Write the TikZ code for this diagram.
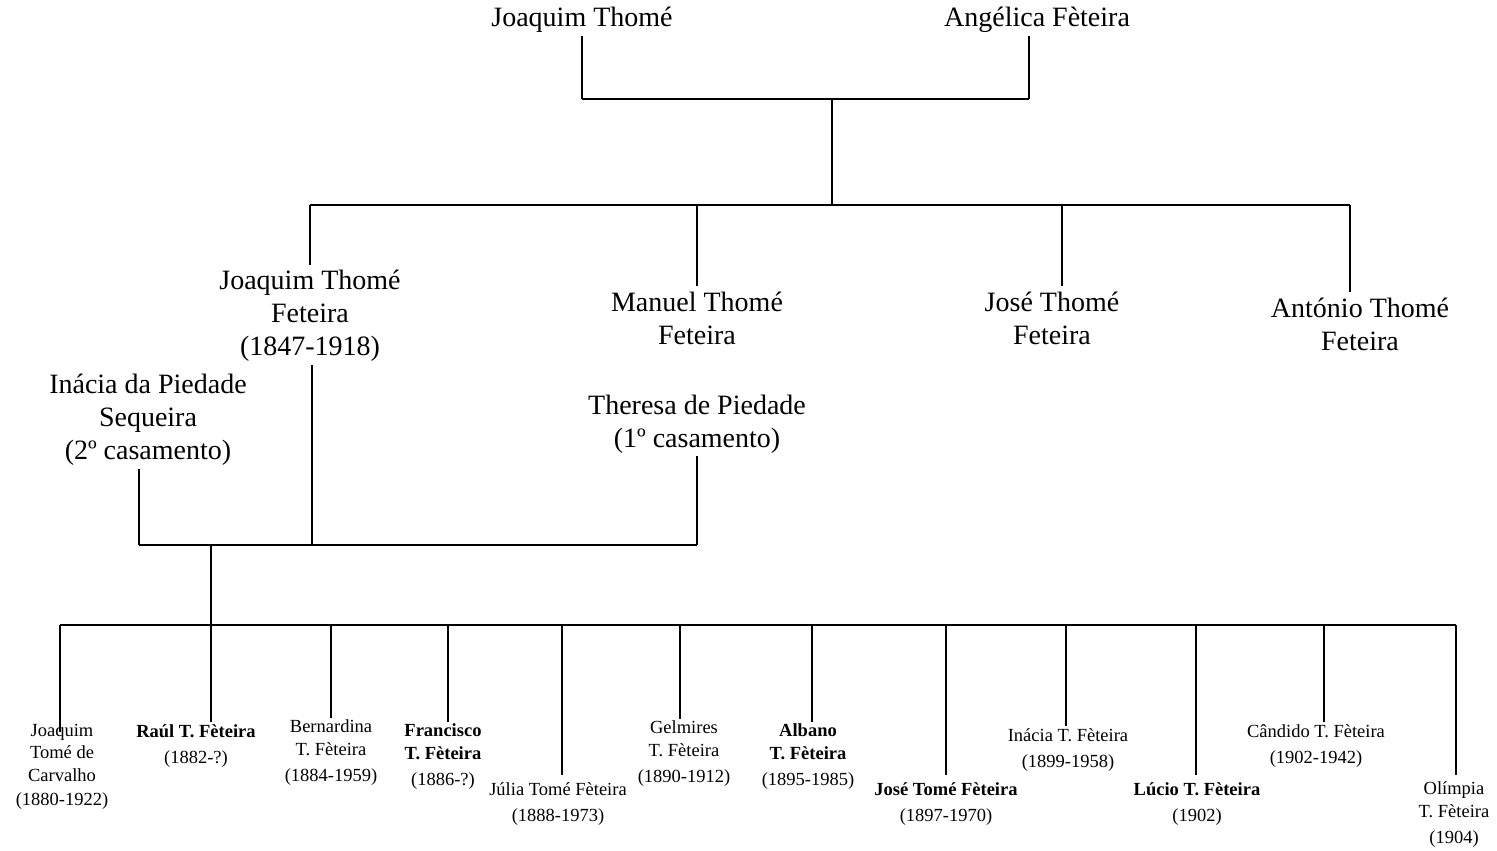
\documentclass[tikz,border=0pt]{standalone}
\usepackage{fontspec}
\setmainfont{Liberation Serif}
\begin{document}
\begin{tikzpicture}[
  x=1pt, y=-1pt,
  big/.style={align=center, inner sep=0pt, font=\fontsize{28}{33}\selectfont},
  kid/.style={align=center, inner sep=0pt, font=\fontsize{18.5}{22.5}\selectfont},
  ln/.style={line width=1.5pt, black}
]
\useasboundingbox (0,0) rectangle (1497,851);

%% Parents
\node[big] (joaquim) at (582,20) {Joaquim Thomé};
\node[big] (angelica) at (1037,20) {Angélica Fèteira};
\coordinate (pbar) at (832,99);

%% Their sons
\node[big] (jtf) at (310,316) {Joaquim Thomé\\Feteira\\(1847-1918)};
\node[big] (mtf) at (697,318) {Manuel Thomé\\Feteira};
\node[big] (josetf) at (1052,318) {José Thomé\\Feteira};
\node[big] (antonio) at (1360,324) {António Thomé\\Feteira};
\coordinate (sbar) at (832,205);

%% Wives
\node[big] (inacia) at (148,420) {Inácia da Piedade\\Sequeira\\(2º casamento)};
\node[big] (theresa) at (697,424) {Theresa de Piedade\\(1º casamento)};
\coordinate (wbar) at (211,545);

%% Children
\coordinate (kbar) at (211,625);
\node[kid] (k1) at (62,767) {Joaquim\\Tomé de\\Carvalho\\[2pt](1880-1922)};
\node[kid] (k2) at (196,746) {\textbf{Raúl T. Fèteira}\\[4pt](1882-?)};
\node[kid] (k3) at (331,753) {Bernardina\\T. Fèteira\\[4pt](1884-1959)};
\node[kid] (k4) at (443,757) {\textbf{Francisco}\\\textbf{T. Fèteira}\\[4pt](1886-?)};
\node[kid] (k5) at (558,804) {Júlia Tomé Fèteira\\[4pt](1888-1973)};
\node[kid] (k6) at (684,754) {Gelmires\\T. Fèteira\\[4pt](1890-1912)};
\node[kid] (k7) at (808,757) {\textbf{Albano}\\\textbf{T. Fèteira}\\[4pt](1895-1985)};
\node[kid] (k8) at (946,804) {\textbf{José Tomé Fèteira}\\[4pt](1897-1970)};
\node[kid] (k9) at (1068,750) {Inácia T. Fèteira\\[4pt](1899-1958)};
\node[kid] (k10) at (1197,804) {\textbf{Lúcio T. Fèteira}\\[4pt](1902)};
\node[kid] (k11) at (1316,746) {Cândido T. Fèteira\\[4pt](1902-1942)};
\node[kid] (k12) at (1454,815) {Olímpia\\T. Fèteira\\[4pt](1904)};

%% Lines, parents
\draw[ln] ([yshift=-3pt]joaquim.south) -- (joaquim.south |- pbar);
\draw[ln] ([xshift=-8pt,yshift=-3pt]angelica.south) -- ([xshift=-8pt]angelica.south |- pbar);
\draw[ln] (joaquim.south |- pbar) -- ([xshift=-8pt]angelica.south |- pbar);
\draw[ln] (pbar) -- (sbar);

%% Lines, sons
\draw[ln] (jtf.north |- sbar) -- ([xshift=-10pt]antonio.north |- sbar);
\draw[ln] (jtf.north |- sbar) -- ([yshift=5pt]jtf.north);
\draw[ln] (mtf.north |- sbar) -- ([yshift=5pt]mtf.north);
\draw[ln] ([xshift=10pt]josetf.north |- sbar) -- ([xshift=10pt,yshift=5pt]josetf.north);
\draw[ln] ([xshift=-10pt]antonio.north |- sbar) -- ([xshift=-10pt,yshift=5pt]antonio.north);

%% Lines, marriages
\draw[ln] ([xshift=2pt,yshift=-3pt]jtf.south) -- ([xshift=2pt]jtf.south |- wbar);
\draw[ln] ([xshift=-9pt,yshift=-3pt]inacia.south) -- ([xshift=-9pt]inacia.south |- wbar);
\draw[ln] ([yshift=-3pt]theresa.south) -- (theresa.south |- wbar);
\draw[ln] ([xshift=-9pt]inacia.south |- wbar) -- (theresa.south |- wbar);
\draw[ln] (wbar) -- (kbar);

%% Lines, children
\draw[ln] ([xshift=-2pt]k1.north |- kbar) -- ([xshift=2pt]k12.north |- kbar);
\foreach \k/\dx/\dy in {k1/-2/-8, k2/15/2, k3/0/2, k4/5/2, k5/4/7, k6/-4/2,
                        k7/4/2, k8/0/7, k9/-2/2, k10/-1/7, k11/8/2, k12/2/7}
  \draw[ln] ([xshift=\dx pt]\k.north |- kbar) -- ([xshift=\dx pt,yshift=\dy pt]\k.north);
\end{tikzpicture}
\end{document}
